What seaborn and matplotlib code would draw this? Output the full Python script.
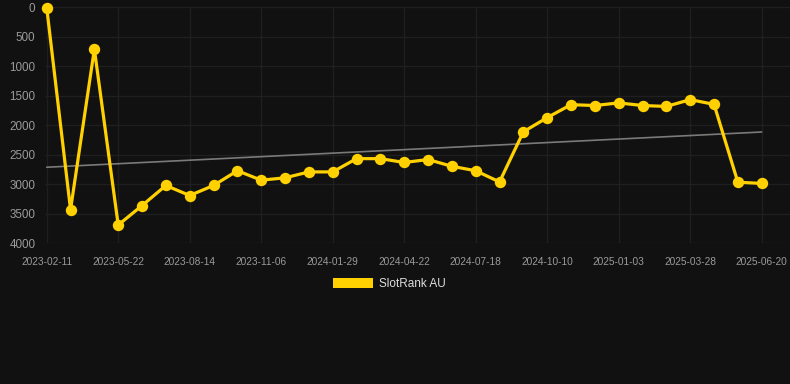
import numpy as np
import pandas as pd
import matplotlib
matplotlib.use("Agg")
import matplotlib.pyplot as plt
from matplotlib.patches import Patch
import seaborn as sns

# ---- data ----
dates = [
    "2023-02-11", "2023-03-20", "2023-04-24", "2023-05-22", "2023-06-19", "2023-07-17",
    "2023-08-14", "2023-09-11", "2023-10-09", "2023-11-06", "2023-12-04", "2024-01-01",
    "2024-01-29", "2024-02-26", "2024-03-25", "2024-04-22", "2024-05-20", "2024-06-17",
    "2024-07-18", "2024-08-15", "2024-09-12", "2024-10-10", "2024-11-07", "2024-12-05",
    "2025-01-03", "2025-01-31", "2025-02-28", "2025-03-28", "2025-04-25", "2025-05-23",
    "2025-06-20",
]
ranks = [
    5, 3430, 710, 3690, 3360, 3020,
    3190, 3020, 2770, 2930, 2890, 2790,
    2790, 2565, 2565, 2630, 2580, 2695,
    2770, 2960, 2110, 1870, 1650, 1665,
    1620, 1665, 1680, 1565, 1645, 2965,
    2985,
]
series_name = "SlotRank AU"
y_ticks = [0, 500, 1000, 1500, 2000, 2500, 3000, 3500, 4000]

BG = "#111111"
GRID = "#1f1f1f"
YELLOW = "#FFD100"
TICKC = "#9a9a9a"

sns.set_style("dark", {"axes.facecolor": BG, "figure.facecolor": BG})
plt.rcParams["font.family"] = ["Liberation Sans", "DejaVu Sans"]

W, H = 790, 384
fig = plt.figure(figsize=(W / 100, H / 100), dpi=100)
left, right, top, bottom = 45, 790, 7.3, 243.3
ax = fig.add_axes([left / W, 1 - bottom / H, (right - left) / W, (bottom - top) / H])
ax.set_facecolor(BG)

df = pd.DataFrame({"idx": np.arange(len(ranks)), "rank": ranks, "date": dates})

# trend line (linear fit)
coef = np.polyfit(df["idx"], df["rank"], 1)
trend = np.polyval(coef, df["idx"])
sns.lineplot(x=df["idx"], y=trend, ax=ax, color="#7a7a7a", linewidth=1.2, zorder=2)

sns.lineplot(data=df, x="idx", y="rank", ax=ax, color=YELLOW, linewidth=2.3,
             marker="o", markersize=8.2, markeredgewidth=0, zorder=3)
for ln in ax.lines[1:]:
    ln.set_solid_joinstyle("miter")
    ln.set_clip_on(False)

x_per = (761.7 - 46.7) / 30
ax.set_xlim(-(46.7 - left) / x_per, 30 + (right - 761.7) / x_per)
ax.set_ylim(4000, 0)

tick_idx = list(range(0, len(dates), 3))
ax.set_xticks(tick_idx)
ax.set_xticklabels([dates[i] for i in tick_idx])
ax.set_yticks(y_ticks)
ax.set_yticklabels([str(v) for v in y_ticks])

ax.grid(True, color=GRID, linewidth=1)
ax.tick_params(axis="x", colors=TICKC, labelsize=7.3, length=5, width=1, pad=5, color=GRID)
ax.tick_params(axis="y", colors=TICKC, labelsize=8.4, length=0, pad=7)
for s in ax.spines.values():
    s.set_visible(False)
ax.set_xlabel("")
ax.set_ylabel("")
if ax.get_legend():
    ax.get_legend().remove()

fs = 8.5
leg = fig.legend(handles=[Patch(facecolor=YELLOW, edgecolor="none", label=series_name)],
                 loc="center", bbox_to_anchor=(389 / W, 1 - 284 / H), frameon=False,
                 fontsize=fs, handlelength=3.4, handleheight=1.0, handletextpad=0.5)
for t in leg.get_texts():
    t.set_color("#dddddd")

fig.savefig("out.png", dpi=100, facecolor=BG)
